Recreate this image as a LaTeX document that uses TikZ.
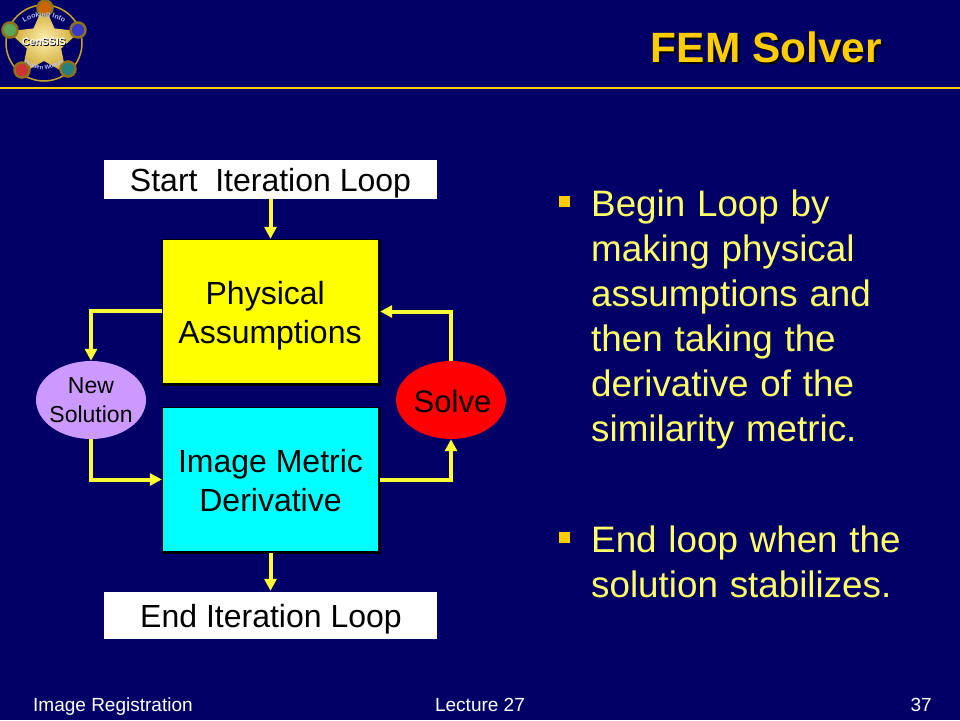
\documentclass[tikz,border=0pt]{standalone}
\usepackage{fontspec}
\setmainfont{Liberation Sans}
\usetikzlibrary{shapes.geometric,arrows.meta,decorations.text,calc}
\definecolor{navy}{HTML}{000066}
\definecolor{gold}{HTML}{FFCC00}
\definecolor{bodytext}{HTML}{FFFF66}
\definecolor{lilac}{HTML}{CC99FF}
\definecolor{flowline}{HTML}{FFFF33}
\definecolor{pureyellow}{HTML}{FFFF00}
\definecolor{purecyan}{HTML}{00FFFF}
\definecolor{purered}{HTML}{FF0000}
\definecolor{logogold}{HTML}{C9A227}
\definecolor{logocream}{HTML}{FFF0B0}
\definecolor{logotext}{HTML}{B9C4F0}
\newfontfamily\bodyfam[WordSpace=1.15]{Liberation Sans}
\tikzset{
  whitebox/.style={draw=none,fill=white,text=black,minimum width=333pt,inner sep=0pt},
  bigbox/.style={draw=none,fill=#1,minimum width=215pt,minimum height=143pt,inner sep=0pt},
  boxlabel/.style={text=black,align=center,inner sep=0pt,font=\fontsize{32}{39}\selectfont},
  oval/.style={ellipse,draw=none,fill=#1,minimum width=110pt,minimum height=78pt,inner sep=0pt},
  flow/.style={draw=flowline,line width=4pt,-{Triangle[length=12pt,width=12pt]}},
  bodypara/.style={anchor=base west,align=left,text=bodytext,font=\bodyfam\fontsize{36.8}{45}\selectfont,inner sep=0pt},
  bulletmark/.style={fill=gold,minimum size=11pt,inner sep=0pt},
  foot/.style={text=white,font=\fontsize{19}{22}\selectfont,inner sep=0pt,anchor=base},
  logopod/.style={circle,draw=logogold!70!black,line width=2.5pt,minimum size=#1,inner sep=0pt}
}
\begin{document}
\begin{tikzpicture}[x=1pt,y=-1pt]
\useasboundingbox (0,0) rectangle (960,720);
\fill[navy] (0,0) rectangle (960,720);
% header rule
\fill[gold] (0,87) rectangle (960,89);
% title
\node[anchor=base east,inner sep=0pt,text=black,font=\fontsize{42.4}{48}\selectfont\bfseries] at (884,64) {FEM Solver};
\node[anchor=base east,inner sep=0pt,text=gold,font=\fontsize{42.4}{48}\selectfont\bfseries] (title) at (882,62) {FEM Solver};
% logo
\begin{scope}[shift={(44,43)}]
\draw[logogold,line width=1.5pt] (0,0) circle (38);
\shade[inner color=logocream,outer color=logogold]
  (-90:38) -- (-54:18) -- (-18:38) -- (18:18) -- (54:38) -- (90:18) -- (126:38) -- (162:18) -- (198:38) -- (234:18) -- cycle;
\node[logopod=15pt,fill=orange!80!black] (pa) at (1,-35) {};
\node[logopod=15pt,fill=green!30!gray] (pb) at (-34,-13) {};
\node[logopod=15pt,fill=blue!55!gray] (pc) at (34,-13) {};
\node[logopod=15pt,fill=red!60!gray] (pd) at (-22,27) {};
\node[logopod=15pt,fill=teal!70!gray] (pe) at (24,26) {};
\node[inner sep=0pt,text=black,font=\fontsize{10.5}{12}\selectfont\bfseries] at (0.7,-0.3) {CenSSIS};
\node[inner sep=0pt,text=white,font=\fontsize{10.5}{12}\selectfont\bfseries] (cen) at (0,-1) {CenSSIS};
\path[decorate,decoration={text along path,text align=center,text={|\fontsize{7}{8}\selectfont\bfseries\color{logotext}|Looking Into}}] (-28,-11) .. controls (-18,-31) and (18,-31) .. (28,-11);
\path[decorate,decoration={text along path,text align=center,text={|\fontsize{6}{7}\selectfont\bfseries\color{logotext}|Hidden Worlds}}] (-28,10) .. controls (-16,32) and (16,32) .. (28,10);
\end{scope}
% box shadows and outlines
\fill[black] (161.5,238.5) rectangle (381,386);
\fill[black] (161.5,406.5) rectangle (381,554);
% flow nodes
\node[whitebox,minimum height=39pt] (start) at (270.5,179.5) {};
\node[boxlabel] (startlabel) at (270.5,183) {Start\ \ Iteration Loop};
\node[bigbox=pureyellow] (phys) at (270.5,311.5) {};
\node[boxlabel] (physlabel) at (270,316) {Physical\hspace*{0.3em}\\Assumptions};
\node[bigbox=purecyan] (metric) at (270.5,479.5) {};
\node[boxlabel] (metriclabel) at (270.5,481) {Image Metric\\Derivative};
\node[whitebox,minimum height=47pt] (end) at (270.5,615.5) {};
\node[boxlabel] (endlabel) at (271,619) {End Iteration Loop};
\node[oval=lilac] (new) at (91,400) {};
\node[boxlabel,font=\fontsize{23}{29}\selectfont] (newlabel) at (91,400) {New\\Solution};
\node[oval=purered] (solve) at (451,400) {};
\node[boxlabel,font=\fontsize{31}{36}\selectfont] (solvelabel) at (452.5,401) {Solve};
% connectors
\draw[flow] (start.south) -- ($(phys.north)+(0,-1)$);
\draw[flow] ($(metric.south)+(0,2)$) -- ($(end.north)+(0,-1)$);
\draw[flow] ($(phys.west)+(-1,-1)$) -| (new.north);
\draw[flow] (new.south) |- ($(metric.west)+(-1,0)$);
\draw[flow] (solve.north) |- ($(phys.east)+(2,0)$);
\draw[flow] ($(metric.east)+(2,0)$) -| (solve.south);
% body text
\node[bulletmark] (b1) at (564,201) {};
\node[bodypara] (para1) at (591,441) {Begin Loop by\\making physical\\assumptions and\\then taking the\\derivative of the\\similarity metric.};
\node[bulletmark] (b2) at (564,537) {};
\node[bodypara] (para2) at (591,597) {End loop when the\\solution stabilizes.};
% footer
\node[foot,anchor=base west] (f1) at (33,711) {Image Registration};
\node[foot] (f2) at (480,711) {Lecture 27};
\node[foot,anchor=base east] (f3) at (932,711) {37};
\end{tikzpicture}
\end{document}
